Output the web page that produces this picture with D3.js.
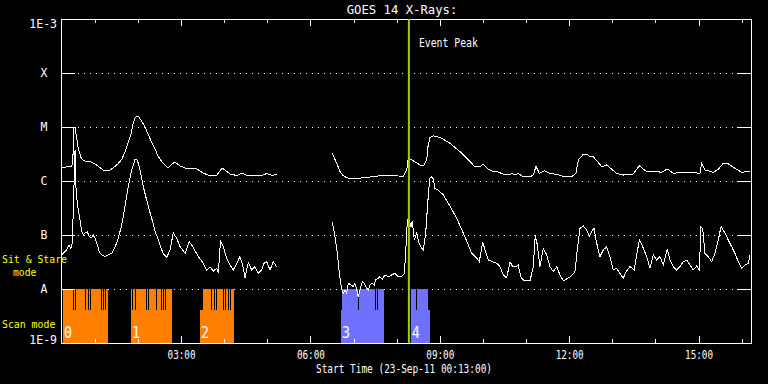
<!DOCTYPE html>
<html>
<head>
<meta charset="utf-8">
<script src="https://cdn.jsdelivr.net/npm/d3@7"></script>
<style>
body { margin: 0; background: #000; }
text { font-family: "DejaVu Sans Mono", "Liberation Mono", monospace; }
</style>
</head>
<body>
<div id="chart"></div>
<script>
const MARGIN = {left: 61, right: 17, top: 19, bottom: 41};
const WIDTH = 768 - MARGIN.left - MARGIN.right;
const HEIGHT = 384 - MARGIN.top - MARGIN.bottom;

// times are minutes after 00:00 UT on 23-Sep-2011, null flux = data gap
const startMinute = 13;
const endMinute = 973;
const eventPeak = 497;

const longTime = [13, 20, 27, 29.3, 31.1, 32.5, 34.8, 36.7, 40.5, 43.6, 49.2, 54.7, 60.3, 65.9, 71.4, 77, 81.2, 85.3, 92.3, 97.9,
  102, 106.2, 110.4, 113.2, 116, 118.7, 121.5, 125.7, 129.9, 134, 139.6, 143.8, 148, 153.5, 157.7, 161.9, 166, 171.6, 178.6, 185.6,
  195.3, 202.2, 210.6, 220.3, 230, 237, 241.2, 248.2, 257.9, 264.8, 271.8, 282.9, 291.3, 299.6, 306.6, 313,
  350,
  390.5, 396.6, 401.2, 405.3, 410.5, 415.1, 426.2, 440.1, 454, 468, 481.9, 489.2, 494, 496.2, 500.9, 507.9, 514.8, 518, 521.8, 523.6,
  526.4, 531, 534.7, 542.7, 554.2, 568.1, 579.7, 589, 595.9, 600.5, 607.5, 614.5, 621.4, 628.4, 637.7, 640.1, 644.6, 649.2, 656.2, 665.5,
  670.1, 673.9, 678.5, 685.4, 693.3, 702.7, 711.9, 723.5, 729.5, 732.7, 739.7, 746.6, 749, 753.6, 758.3, 765.3, 772.2, 779.2, 786.1, 795.3,
  809.2, 817.6, 827.9, 841.8, 848.8, 856.5, 864.9, 878.8, 892.7, 902, 904.4, 909, 920.5, 927.5, 934.5, 941.4, 950.7, 960.1, 971.6];
const longFlux = [1.74e-6, 1.82e-6, 1.82e-6, 2.15e-6, 1.0e-5, 1.0e-5, 6.26e-6, 4.26e-6, 2.78e-6, 2.45e-6, 2.25e-6, 2.25e-6, 2.07e-6, 1.82e-6, 1.60e-6, 1.53e-6, 1.60e-6, 1.74e-6, 2.07e-6, 2.56e-6,
  3.44e-6, 5.06e-6, 7.42e-6, 1.14e-5, 1.47e-5, 1.60e-5, 1.53e-5, 1.24e-5, 1.0e-5, 7.42e-6, 5.06e-6, 3.92e-6, 2.90e-6, 2.25e-6, 1.98e-6, 1.74e-6, 1.98e-6, 2.25e-6, 1.90e-6, 1.74e-6,
  1.74e-6, 1.67e-6, 1.41e-6, 1.24e-6, 1.29e-6, 1.74e-6, 1.60e-6, 1.35e-6, 1.26e-6, 1.41e-6, 1.25e-6, 1.24e-6, 1.25e-6, 1.38e-6, 1.26e-6, 1.35e-6,
  null,
  3.26e-6, 2.13e-6, 1.49e-6, 1.26e-6, 1.15e-6, 1.12e-6, 1.12e-6, 1.17e-6, 1.24e-6, 1.24e-6, 1.24e-6, 1.21e-6, 1.60e-6, 2.72e-6, 2.45e-6, 2.15e-6, 1.92e-6, 1.98e-6, 2.45e-6, 4.32e-6,
  6.44e-6, 6.90e-6, 6.67e-6, 6.18e-6, 4.99e-6, 3.49e-6, 2.45e-6, 1.84e-6, 1.84e-6, 2.04e-6, 1.65e-6, 1.49e-6, 1.47e-6, 1.33e-6, 1.29e-6, 1.39e-6, 1.29e-6, 1.39e-6, 1.19e-6, 1.20e-6,
  1.29e-6, 1.87e-6, 1.39e-6, 1.55e-6, 1.38e-6, 1.33e-6, 1.21e-6, 1.20e-6, 1.38e-6, 2.45e-6, 3.12e-6, 3.03e-6, 2.78e-6, 2.82e-6, 2.38e-6, 1.84e-6, 1.98e-6, 1.65e-6, 1.39e-6, 1.29e-6,
  1.35e-6, 1.90e-6, 1.49e-6, 1.49e-6, 1.45e-6, 1.67e-6, 1.39e-6, 1.45e-6, 1.43e-6, 1.39e-6, 2.13e-6, 1.60e-6, 1.45e-6, 1.65e-6, 2.13e-6, 2.07e-6, 1.72e-6, 1.45e-6, 1.53e-6];

const shortTime = [13, 16.2, 20.9, 24.1, 26.9, 28.7, 30.1, 32.5, 33.6, 34.8, 37.1, 39.4, 41.8, 44, 46.4, 49.6, 52.4, 55.7, 57.9, 60.3,
  62.7, 66.3, 69.6, 74.2, 78.8, 83.5, 88.1, 92.7, 97.5, 102, 106.6, 111.4, 116, 119.2, 122.9, 127.5, 134.5, 139.2, 143.8, 148.4,
  155.3, 160.1, 164.7, 169.2, 174, 178.6, 185.6, 191.5, 197.1, 204, 211, 215.7, 220.3, 224.9, 229.6, 231.9, 234.9, 238.8, 243.5, 248.1,
  252.7, 257.5, 262, 265.8, 269, 273.6, 278.3, 282.9, 287.5, 292.2, 295.4, 299.2, 303.8, 308.4, 313.1,
  350,
  390.5, 394.2, 397.4, 399.8, 402.1, 404.4, 405.8, 408.1, 410.5, 412.7, 416.5, 419.7, 422, 424.4, 426.6, 429, 432.2, 435, 438.3, 440.5,
  442.9, 445.3, 448.9, 450.8, 454.5, 456.8, 460, 463.8, 468.4, 473.1, 477.7, 482.3, 487, 490.6, 492.6, 494, 495.4, 497.2, 500, 501.8,
  504.5, 507.9, 511.1, 514.8, 517.1, 520.4, 523.2, 526, 528.8, 531, 533.3, 537.9, 544.9, 554.2, 563.5, 572.7, 579.7, 584.4, 591.4, 595,
  599.7, 602.9, 607.5, 614.5, 619.2, 623.8, 628.4, 633.1, 637.7, 641.4, 646, 649.2, 652.6, 656.2, 660.9, 665.5, 670.1, 672.9, 675.7, 679.4,
  684, 688.8, 693.3, 697.9, 702.7, 707.3, 711.9, 721.2, 728.1, 731.3, 735.1, 739.7, 744.4, 748, 752.8, 754.6, 757.3, 760.5, 762.9, 767.5,
  772.2, 776.8, 781.4, 786.1, 790.7, 795.3, 799.1, 804.6, 810.6, 814, 817.6, 822.3, 827.9, 832.5, 837.1, 841.8, 846.4, 851, 856.5, 860.3,
  864.9, 869.6, 874.2, 878.8, 883.5, 888.1, 892.7, 897.4, 901.1, 903.4, 905.8, 909, 913.6, 918.3, 922.9, 927.5, 931.3, 936.8, 941.4, 946.1,
  950.7, 955.3, 960.1, 964.6, 969.2, 971.6];
const shortFlux = [4.26e-8, 4.58e-8, 5.28e-8, 6.53e-8, 5.63e-8, 7.11e-8, 2.90e-7, 3.75e-6, 8.43e-7, 5.06e-7, 2.90e-7, 1.90e-7, 1.19e-7, 1.0e-7, 1.10e-7, 1.15e-7, 9.3e-8, 8.8e-8, 1.0e-7, 8.69e-8,
  7.11e-8, 4.91e-8, 4.26e-8, 3.97e-8, 4.26e-8, 4.58e-8, 5.87e-8, 8.8e-8, 1.53e-7, 3.35e-7, 7.85e-7, 1.60e-6, 2.52e-6, 2.45e-6, 1.60e-6, 7.85e-7, 3.35e-7, 2.04e-7, 1.19e-7, 8.08e-8,
  4.45e-8, 3.87e-8, 5.28e-8, 1.09e-7, 8.69e-8, 6.07e-8, 4.58e-8, 7.51e-8, 5.87e-8, 3.97e-8, 2.99e-8, 2.25e-8, 2.56e-8, 2.15e-8, 2.42e-8, 1.95e-8, 7.93e-8, 6.07e-8, 3.70e-8, 2.78e-8,
  2.25e-8, 2.99e-8, 3.97e-8, 2.78e-8, 1.63e-8, 3.10e-8, 2.25e-8, 2.59e-8, 1.95e-8, 2.25e-8, 2.99e-8, 3.20e-8, 2.25e-8, 3.20e-8, 2.59e-8,
  null,
  1.74e-7, 9.3e-8, 4.58e-8, 2.25e-8, 1.27e-8, 8.9e-9, 8.3e-9, 9.6e-9, 8.3e-9, 1.27e-8, 1.19e-8, 1.10e-8, 1.27e-8, 9.6e-9, 7.2e-9, 9.6e-9, 1.37e-8, 1.27e-8, 1.03e-8, 9.6e-9,
  1.19e-8, 1.27e-8, 1.19e-8, 1.47e-8, 1.58e-8, 1.69e-8, 1.51e-8, 1.82e-8, 1.69e-8, 1.82e-8, 1.95e-8, 1.69e-8, 1.69e-8, 1.95e-8, 4.58e-8, 1.24e-7, 1.90e-7, 1.90e-7, 1.43e-7, 1.82e-7,
  8.08e-8, 1.08e-7, 7.02e-8, 5.67e-8, 5.28e-8, 1.08e-7, 3.87e-7, 1.12e-6, 1.20e-6, 1.09e-6, 7.33e-7, 6.81e-7, 5.51e-7, 3.44e-7, 2.04e-7, 1.08e-7, 6.53e-8, 4.58e-8, 3.75e-8, 3.20e-8,
  7.51e-8, 5.28e-8, 3.44e-8, 3.16e-8, 2.99e-8, 2.59e-8, 1.82e-8, 1.60e-8, 3.20e-8, 2.59e-8, 2.59e-8, 2.78e-8, 1.69e-8, 1.47e-8, 1.41e-8, 1.41e-8, 2.59e-8, 1.0e-7, 6.53e-8, 2.59e-8,
  5.67e-8, 4.26e-8, 2.59e-8, 2.09e-8, 2.59e-8, 1.82e-8, 1.41e-8, 1.67e-8, 2.09e-8, 5.28e-8, 1.33e-7, 1.47e-7, 1.24e-7, 9.3e-8, 1.24e-7, 1.33e-7, 8.08e-8, 5.28e-8, 3.97e-8, 5.28e-8,
  6.07e-8, 3.97e-8, 2.25e-8, 2.42e-8, 1.95e-8, 1.58e-8, 2.09e-8, 2.59e-8, 2.25e-8, 4.26e-8, 8.08e-8, 6.07e-8, 3.97e-8, 2.42e-8, 4.26e-8, 3.44e-8, 3.97e-8, 2.78e-8, 5.43e-8, 3.44e-8,
  2.59e-8, 2.25e-8, 2.59e-8, 3.20e-8, 3.44e-8, 2.78e-8, 2.25e-8, 2.67e-8, 2.25e-8, 1.39e-7, 1.33e-7, 4.58e-8, 3.97e-8, 3.20e-8, 4.58e-8, 8.08e-8, 1.43e-7, 1.08e-7, 8.08e-8, 6.07e-8,
  4.58e-8, 3.20e-8, 2.42e-8, 2.78e-8, 2.99e-8, 4.26e-8];

// flare class axis
const decades = [1e-3, 1e-4, 1e-5, 1e-6, 1e-7, 1e-8, 1e-9];
const decadeLabels = ["1E-3", "X", "M", "C", "B", "A", "1E-9"];
const gridLevels = [1e-4, 1e-5, 1e-6, 1e-7, 1e-8];

// observing blocks (minutes), drawn in the lower strip of the plot
const scanLabel = ["0", "1", "2", "3", "4"];
const scanGroup = [0, 0, 0, 1, 1];
const scanStart = [15.8, 110.4, 206.4, 402.6, 499.5];
const scanEnd = [78.0, 167.0, 253.7, 462.4, 526.4];
const scanTopStart = [15.8, 110.4, 210.1, 404.4, 499.5];
const scanTopEnd = [78.0, 167.0, 253.7, 462.4, 524.1];
const scanGaps = [
  [29.7, 33.5, 47.4, 51, 54.3, 69.1, 72.4, 75.6],
  [112.2, 116.4, 132.2, 135.4, 146.1, 152.5, 155.3, 158.7],
  [222.7, 226.3, 229.6, 238.8, 242.1, 245.8, 249.5],
  [426.6, 449.9, 453.1],
  [507.9]
];
const scanBottom = 1e-9;
const scanMid = 4.1e-9;
const scanTop = 1e-8;

const groupColors = ["#ff8000", "#7070ff"];
const day = Date.UTC(2011, 8, 23);
const toDate = m => new Date(day + m * 60000);

setup();

function setup() {
  const svg = d3.select("#chart").append("svg")
    .attr("width", 768)
    .attr("height", 384)
    .style("display", "block");
  svg.append("rect").attr("width", "100%").attr("height", "100%").attr("fill", "#000");

  const g = svg.append("g")
    .attr("transform", `translate(${MARGIN.left},${MARGIN.top})`);

  const x = d3.scaleUtc()
    .domain([toDate(startMinute), toDate(endMinute)])
    .range([0, WIDTH]);
  const y = d3.scaleLog()
    .domain([1e-9, 1e-3])
    .range([HEIGHT, 0]);

  // dotted grid
  g.selectAll(".grid")
    .data(gridLevels)
    .enter().append("line")
    .attr("x1", 0).attr("x2", WIDTH)
    .attr("y1", d => y(d)).attr("y2", d => y(d))
    .attr("stroke", "#fff")
    .attr("stroke-dasharray", "1,5")
    .attr("stroke-dashoffset", 1)
    .attr("shape-rendering", "crispEdges");

  // scan blocks
  const blocks = scanLabel.map((l, i) => ({
    label: l, color: groupColors[scanGroup[i]],
    start: toDate(scanStart[i]), end: toDate(scanEnd[i]),
    topStart: toDate(scanTopStart[i]), topEnd: toDate(scanTopEnd[i]),
    gaps: scanGaps[i].map(toDate)
  }));
  const bg = g.append("g").attr("shape-rendering", "crispEdges");
  blocks.forEach(b => {
    bg.append("rect")
      .attr("x", x(b.start)).attr("width", x(b.end) - x(b.start))
      .attr("y", y(scanMid)).attr("height", y(scanBottom) - y(scanMid))
      .attr("fill", b.color);
    bg.append("rect")
      .attr("x", x(b.topStart)).attr("width", x(b.topEnd) - x(b.topStart))
      .attr("y", y(scanTop)).attr("height", y(scanMid) - y(scanTop) + 1)
      .attr("fill", b.color);
    bg.selectAll(null)
      .data(b.gaps)
      .enter().append("line")
      .attr("x1", d => x(d)).attr("x2", d => x(d))
      .attr("y1", y(scanTop)).attr("y2", y(scanMid))
      .attr("stroke", "#000");
    bg.append("text")
      .attr("x", x(b.start) + 1)
      .attr("y", y(scanBottom) - 5)
      .attr("fill", "#fff")
      .attr("font-size", 15)
      .attr("textLength", 8)
      .attr("lengthAdjust", "spacingAndGlyphs")
      .text(b.label);
  });

  // GOES curves
  const line = d3.line()
    .defined(d => d.f != null)
    .x(d => x(d.t))
    .y(d => y(d.f));
  const longData = longTime.map((t, i) => ({t: toDate(t), f: longFlux[i]}));
  const shortData = shortTime.map((t, i) => ({t: toDate(t), f: shortFlux[i]}));
  [longData, shortData].forEach(data => {
    g.append("path")
      .datum(data)
      .attr("d", line)
      .attr("fill", "none")
      .attr("stroke", "#fff")
      .attr("stroke-width", 1)
      .attr("shape-rendering", "crispEdges");
  });

  // axes
  const hours = d3.utcHour.every(1);
  const fmt = d3.utcFormat("%H:%M");
  const isMajor = d => d.getUTCHours() % 3 === 0;

  const bottom = g.append("g")
    .attr("transform", `translate(0,${HEIGHT})`)
    .call(d3.axisBottom(x).ticks(hours).tickSizeInner(-4).tickSizeOuter(0).tickPadding(8)
      .tickFormat(d => isMajor(d) ? fmt(d) : ""));
  bottom.selectAll(".tick line").attr("y2", d => isMajor(d) ? -7 : -4);
  bottom.selectAll(".tick text").filter(d => isMajor(d))
    .attr("textLength", 28).attr("lengthAdjust", "spacingAndGlyphs");

  const top = g.append("g")
    .call(d3.axisTop(x).ticks(hours).tickSizeInner(-4).tickSizeOuter(0).tickFormat(""));
  top.selectAll(".tick line").attr("y2", d => isMajor(d) ? 7 : 4);

  const left = g.append("g")
    .call(d3.axisLeft(y).tickValues(decades).tickSizeInner(-14).tickSizeOuter(0).tickPadding(4)
      .tickFormat((d, i) => decadeLabels[i]));
  left.selectAll(".tick text")
    .attr("text-anchor", (d, i) => decadeLabels[i].length > 1 ? "end" : "middle")
    .attr("x", (d, i) => decadeLabels[i].length > 1 ? -4 : -17)
    .attr("dy", (d, i) => i === 0 ? "0.75em" : (i === decades.length - 1 ? "0.05em" : "0.32em"));

  g.append("g")
    .attr("transform", `translate(${WIDTH},0)`)
    .call(d3.axisRight(y).tickValues(decades).tickSizeInner(-14).tickSizeOuter(0).tickFormat(""));

  g.selectAll(".domain, .tick line").attr("stroke", "#fff").attr("shape-rendering", "crispEdges");
  g.selectAll(".tick text").attr("fill", "#fff").attr("font-size", 11.5)
    .attr("font-family", "'DejaVu Sans Mono', monospace");

  // event peak marker
  g.append("line")
    .attr("x1", x(toDate(eventPeak))).attr("x2", x(toDate(eventPeak)))
    .attr("y1", 0).attr("y2", HEIGHT)
    .attr("stroke", "#a0d000")
    .attr("stroke-width", 2);
  g.append("text")
    .attr("x", x(toDate(eventPeak)) + 10)
    .attr("y", 47 - MARGIN.top)
    .attr("fill", "#fff")
    .attr("font-size", 12)
    .attr("textLength", 59)
    .attr("lengthAdjust", "spacingAndGlyphs")
    .text("Event Peak");

  // titles
  svg.append("text")
    .attr("x", 346.7).attr("y", 14)
    .attr("fill", "#fff").attr("font-size", 13)
    .attr("textLength", 110.6)
    .attr("lengthAdjust", "spacingAndGlyphs")
    .text("GOES 14 X-Rays:");
  svg.append("text")
    .attr("x", 316).attr("y", 373)
    .attr("fill", "#fff").attr("font-size", 11.5)
    .attr("textLength", 176)
    .attr("lengthAdjust", "spacingAndGlyphs")
    .text("Start Time (23-Sep-11 00:13:00)");

  // mode labels
  const modes = [["Sit & Stare", 2, 263, 65], ["mode", 13, 275.5, 23.3], ["Scan mode", 2, 328, 53.3]];
  svg.selectAll(".mode")
    .data(modes)
    .enter().append("text")
    .attr("x", d => d[1]).attr("y", d => d[2])
    .attr("fill", "#ffff00")
    .attr("font-size", 10)
    .attr("textLength", d => d[3])
    .attr("lengthAdjust", "spacingAndGlyphs")
    .text(d => d[0]);
}
</script>
</body>
</html>
